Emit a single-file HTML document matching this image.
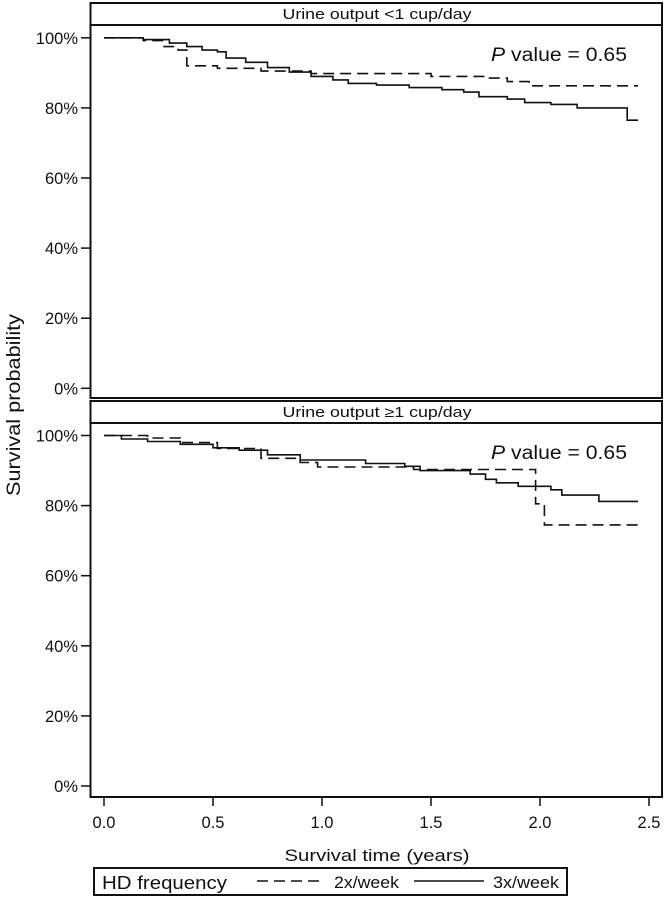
<!DOCTYPE html>
<html><head><meta charset="utf-8"><style>
html,body{margin:0;padding:0;background:#fff}
svg text{font-family:"Liberation Sans",Arial,sans-serif;fill:#111}
</style></head><body>
<svg id="chart" width="664" height="898" viewBox="0 0 664 898" xmlns="http://www.w3.org/2000/svg"></svg>
<script>
// ---- data ----
const xTicks = [0.0, 0.5, 1.0, 1.5, 2.0, 2.5];
const xTickLabels = ["0.0", "0.5", "1.0", "1.5", "2.0", "2.5"];
const yTicks = [0, 20, 40, 60, 80, 100];
const yTickLabels = ["0%", "20%", "40%", "60%", "80%", "100%"];
const panelTitles = ["Urine output <1 cup/day", "Urine output \u22651 cup/day"];
const pValues = ["0.65", "0.65"];
// panel 1 (times in years, survival %)
const p1SolidT = [0, 0.18, 0.3, 0.38, 0.45, 0.52, 0.56, 0.65, 0.75, 0.85, 0.95, 1.05, 1.12, 1.25, 1.4, 1.55, 1.65, 1.72, 1.85, 1.93, 2.05, 2.17, 2.40, 2.45];
const p1SolidS = [100, 99.5, 98.5, 97.5, 96.5, 96, 94.2, 93, 91.5, 90.2, 89, 88, 87, 86.5, 85.8, 85.2, 84.5, 83.2, 82.5, 81.5, 81, 80, 76.5, 76.5];
const p1DashT = [0, 0.18, 0.27, 0.34, 0.38, 0.52, 0.72, 0.95, 1.5, 1.75, 1.85, 1.95, 2.45];
const p1DashS = [100, 99.2, 97.5, 96.5, 92, 91.3, 90.5, 89.8, 89, 88.5, 87.5, 86.3, 86.3];
// panel 2
const p2SolidT = [0, 0.08, 0.2, 0.35, 0.5, 0.62, 0.75, 0.9, 1.2, 1.38, 1.45, 1.68, 1.75, 1.8, 1.9, 2.05, 2.1, 2.27, 2.45];
const p2SolidS = [100, 99, 98.3, 97.5, 96.5, 95.8, 94.5, 93, 92, 91.2, 90, 89, 87.5, 86.5, 85.5, 84.5, 83, 81.2, 81.2];
const p2DashT = [0, 0.2, 0.35, 0.52, 0.72, 0.9, 0.98, 1.42, 1.98, 2.02, 2.45];
const p2DashS = [100, 99.3, 98, 96.3, 93.5, 92.3, 91, 90.3, 80.5, 74.5, 74.5];
const seriesNames = ["2x/week", "3x/week"];

// ---- layout ----
const NS = "http://www.w3.org/2000/svg";
const svg = document.getElementById("chart");
const left = 90.5, right = 662;
const x = t => 104 + t * 218;
const panels = [
  {hTop: 3, hBot: 25, top: 25, bot: 398, y0: 388.3},
  {hTop: 401, hBot: 423, top: 423, bot: 797, y0: 786}
];
const data = [[p1DashT, p1DashS, p1SolidT, p1SolidS], [p2DashT, p2DashS, p2SolidT, p2SolidS]];
function mk(tag, attrs, parent) {
  const e = document.createElementNS(NS, tag);
  for (const k in attrs) e.setAttribute(k, attrs[k]);
  (parent || svg).appendChild(e);
  return e;
}
function stepPath(T, S, y) {
  let d = "M" + x(T[0]).toFixed(1) + "," + y(S[0]).toFixed(1);
  for (let i = 1; i < T.length; i++) {
    d += "H" + x(T[i]).toFixed(1) + "V" + y(S[i]).toFixed(1);
  }
  return d;
}
panels.forEach((p, i) => {
  const y = v => p.y0 - v * 3.505;
  const g = mk("g", {});
  
  
  const hb = mk("rect", {x: left, y: p.hTop, width: right - left, height: p.hBot - p.hTop, fill: "#fff", stroke: "#111", "stroke-width": 2}, g);
  
  
  const ht = mk("text", {x: 377, y: p.hTop + 16, "text-anchor": "middle", "font-size": 14.5, textLength: 189, lengthAdjust: "spacingAndGlyphs"}, g);
  ht.textContent = panelTitles[i];
  
  
  const pb = mk("rect", {x: left, y: p.top, width: right - left, height: p.bot - p.top, fill: "none", stroke: "#111", "stroke-width": 2}, g);
  
  
  yTicks.forEach((v, k) => {
    const tk = mk("line", {x1: 81, x2: left, y1: y(v), y2: y(v), stroke: "#111", "stroke-width": 1.5}, g);
    
    
    const tl = mk("text", {x: 78, y: y(v) + 6, "text-anchor": "end", "font-size": 16.5}, g);
    tl.textContent = yTickLabels[k];
    
    
  });
  const [dT, dS, sT, sS] = data[i];
  const dl = mk("path", {d: stepPath(dT, dS, y), fill: "none", stroke: "#111", "stroke-width": 1.6, "stroke-dasharray": "11,6"}, g);
  
  
  const sl = mk("path", {d: stepPath(sT, sS, y), fill: "none", stroke: "#111", "stroke-width": 1.6}, g);
  
  
  const pv = mk("text", {x: 491, y: p.top + 36, "font-size": 19, textLength: 136, lengthAdjust: "spacingAndGlyphs"}, g);
  pv.innerHTML = '<tspan font-style="italic">P</tspan> value = ' + pValues[i];
  
  
});
xTicks.forEach((t, k) => {
  const tk = mk("line", {x1: x(t), x2: x(t), y1: 797, y2: 806, stroke: "#111", "stroke-width": 1.5});
  
  
  const tl = mk("text", {x: x(t), y: 828, "text-anchor": "middle", "font-size": 16.5});
  tl.textContent = xTickLabels[k];
  
  
});
const xt = mk("text", {x: 377, y: 861, "text-anchor": "middle", "font-size": 17, textLength: 185, lengthAdjust: "spacingAndGlyphs"});
xt.textContent = "Survival time (years)";


const yt = mk("text", {x: 0, y: 0, "text-anchor": "middle", "font-size": 19.5, textLength: 182, lengthAdjust: "spacingAndGlyphs", transform: "translate(20,405) rotate(-90)"});
yt.textContent = "Survival probability";


// legend
const lg = mk("g", {});


const lb = mk("rect", {x: 94, y: 868, width: 473, height: 27, fill: "#fff", stroke: "#111", "stroke-width": 2}, lg);


const lt = mk("text", {x: 102, y: 889, "font-size": 18, textLength: 125, lengthAdjust: "spacingAndGlyphs"}, lg);
lt.textContent = "HD frequency";


const l1 = mk("line", {x1: 257, x2: 323, y1: 881, y2: 881, stroke: "#111", "stroke-width": 1.6, "stroke-dasharray": "11,6"}, lg);


const t1 = mk("text", {x: 334, y: 888, "font-size": 17, textLength: 65, lengthAdjust: "spacingAndGlyphs"}, lg);
t1.textContent = seriesNames[0];


const l2 = mk("line", {x1: 414, x2: 484, y1: 881, y2: 881, stroke: "#111", "stroke-width": 1.6}, lg);


const t2 = mk("text", {x: 493, y: 888, "font-size": 17, textLength: 66, lengthAdjust: "spacingAndGlyphs"}, lg);
t2.textContent = seriesNames[1];


</script>
</body></html>
